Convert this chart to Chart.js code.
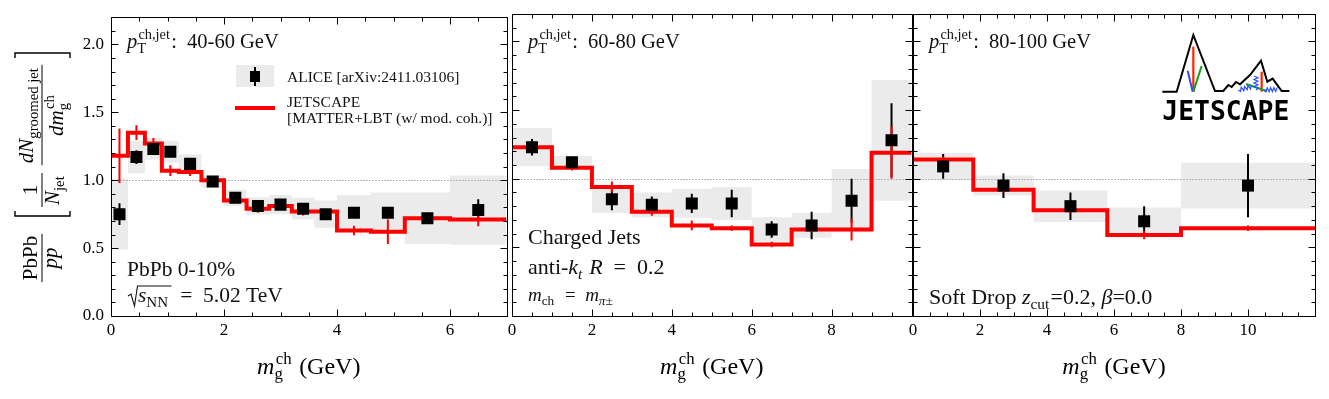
<!DOCTYPE html>
<html>
<head>
<meta charset="utf-8">
<script src="https://cdn.jsdelivr.net/npm/chart.js@4.4.0/dist/chart.umd.min.js"></script>
<style>
  html, body { margin: 0; padding: 0; background: #fff; }
  #wrap { position: relative; width: 1329px; height: 399px; overflow: hidden; }
  #wrap canvas { position: absolute; top: 0; }
</style>
</head>
<body>
<div id="wrap">
  <canvas id="c1" width="515" height="399" style="left:0px"></canvas>
  <canvas id="c2" width="420" height="399" style="left:500px"></canvas>
  <canvas id="c3" width="429" height="399" style="left:900px"></canvas>
</div>
<script>
const SERIF = '"Liberation Serif", "Times New Roman", serif';

// ---- panel 1: pT 40-60 GeV ----
const p1Edges = [0, 0.3, 0.6, 0.9, 1.2, 1.6, 2.0, 2.4, 2.8, 3.2, 3.6, 4.0, 4.6, 5.2, 6.0, 7.0];
const p1X = [0.15, 0.45, 0.75, 1.05, 1.4, 1.8, 2.2, 2.6, 3.0, 3.4, 3.8, 4.3, 4.9, 5.6, 6.5];
const p1Alice = [0.75, 1.17, 1.23, 1.21, 1.12, 0.99, 0.87, 0.81, 0.82, 0.79, 0.75, 0.76, 0.76, 0.72, 0.78];
const p1Stat = [0.08, 0.05, 0.04, 0.04, 0.04, 0.03, 0.03, 0.03, 0.03, 0.03, 0.03, 0.03, 0.03, 0.04, 0.08];
const p1Sys = [0.26, 0.12, 0.08, 0.08, 0.07, 0.045, 0.06, 0.065, 0.07, 0.08, 0.1, 0.13, 0.15, 0.19, 0.255];
const p1Jet = [1.18, 1.35, 1.27, 1.07, 1.06, 1.00, 0.85, 0.79, 0.81, 0.77, 0.77, 0.63, 0.62, 0.72, 0.71];
const p1JetErr = [0.2, 0.055, 0.04, 0.04, 0.03, 0.03, 0.02, 0.03, 0.02, 0.03, 0.02, 0.035, 0.09, 0.02, 0.05];

// ---- panel 2: pT 60-80 GeV ----
const p2Edges = [0, 1, 2, 3, 4, 5, 6, 7, 8, 9, 10];
const p2X = [0.5, 1.5, 2.5, 3.5, 4.5, 5.5, 6.5, 7.5, 8.5, 9.5];
const p2Alice = [1.23, 1.12, 0.85, 0.81, 0.82, 0.82, 0.63, 0.66, 0.84, 1.28];
const p2Stat = [0.06, 0.04, 0.08, 0.06, 0.07, 0.1, 0.06, 0.1, 0.16, 0.27];
const p2Sys = [0.14, 0.045, 0.1, 0.09, 0.105, 0.12, 0.09, 0.09, 0.23, 0.44];
const p2Jet = [1.23, 1.08, 0.94, 0.76, 0.66, 0.64, 0.52, 0.63, 0.63, 1.19];
const p2JetErr = [0.02, 0.02, 0.04, 0.03, 0.035, 0.02, 0.02, 0.02, 0.08, 0.19];

// ---- panel 3: pT 80-100 GeV ----
const p3Edges = [0, 1.8, 3.6, 5.8, 8.0, 12];
const p3X = [0.9, 2.7, 4.7, 6.9, 10.0];
const p3Alice = [1.09, 0.95, 0.80, 0.69, 0.95];
const p3Stat = [0.09, 0.09, 0.1, 0.11, 0.23];
const p3Sys = [0.1, 0.073, 0.115, 0.1, 0.167];
const p3Jet = [1.14, 0.92, 0.77, 0.59, 0.64];
const p3JetErr = [0.02, 0.02, 0.02, 0.03, 0.02];

const yTicks = [0, 0.5, 1.0, 1.5, 2.0];

// rich text helpers (italic, sub/superscripts)
const N = t => ({ t });
const I = t => ({ t, i: true });
const S = (b, p, bi, pi) => ({ b, p, bi, pi });
const fnt = (size, it) => (it ? 'italic ' : '') + size + 'px ' + SERIF;
const EQ = '\u2002=\u2002';

function rich(ctx, parts, x, y, size, draw = true) {
  let cx = x;
  ctx.textBaseline = 'alphabetic';
  ctx.textAlign = 'left';
  for (const q of parts) {
    if (q.t !== undefined) {
      ctx.font = fnt(size, q.i);
      if (draw) ctx.fillText(q.t, cx, y);
      cx += ctx.measureText(q.t).width;
    } else {
      const ss = size * 0.7;
      let w = 0;
      if (q.b) {
        ctx.font = fnt(ss, q.bi);
        if (draw) ctx.fillText(q.b, cx, y + size * 0.22);
        w = ctx.measureText(q.b).width;
      }
      if (q.p) {
        const off = q.b ? size * 0.06 : 0;
        ctx.font = fnt(ss, q.pi);
        if (draw) ctx.fillText(q.p, cx + off, y - size * 0.42);
        w = Math.max(w, ctx.measureText(q.p).width + off);
      }
      cx += w + size * 0.06;
    }
  }
  return cx - x;
}
function richC(ctx, parts, cx, y, size) {
  const w = rich(ctx, parts, 0, 0, size, false);
  rich(ctx, parts, cx - w / 2, y, size);
  return w;
}

function stepPts(edges, vals) {
  const pts = vals.map((v, i) => ({ x: edges[i], y: v }));
  pts.push({ x: edges[edges.length - 1], y: vals[vals.length - 1] });
  return pts;
}

function vbars(chart, xs, vals, errs, color) {
  const { ctx, scales: { x, y } } = chart;
  ctx.save();
  ctx.strokeStyle = color;
  ctx.lineWidth = 2;
  ctx.beginPath();
  xs.forEach((xv, i) => {
    const px = x.getPixelForValue(xv);
    ctx.moveTo(px, y.getPixelForValue(vals[i] - errs[i]));
    ctx.lineTo(px, y.getPixelForValue(vals[i] + errs[i]));
  });
  ctx.stroke();
  ctx.restore();
}

function drawFrame(chart, xmax) {
  const { ctx, chartArea: a, scales: { x, y } } = chart;
  const L = Math.round(a.left) + 0.5, R = Math.round(a.right) + 0.5;
  const T = Math.round(a.top) + 0.5, B = Math.round(a.bottom) + 0.5;
  ctx.save();
  ctx.strokeStyle = '#000';
  ctx.lineWidth = 1;
  ctx.beginPath();
  for (let k = 0; k <= xmax * 2; k++) {
    const px = Math.round(x.getPixelForValue(k / 2)) + 0.5;
    const len = k % 4 === 0 ? 7 : 4;
    ctx.moveTo(px, B); ctx.lineTo(px, B - len);
    ctx.moveTo(px, T); ctx.lineTo(px, T + len);
  }
  for (let k = 0; k <= 22; k++) {
    const py = Math.round(y.getPixelForValue(k / 10)) + 0.5;
    const len = k % 5 === 0 ? 7 : 4;
    ctx.moveTo(L, py); ctx.lineTo(L + len, py);
    ctx.moveTo(R, py); ctx.lineTo(R - len, py);
  }
  ctx.moveTo(L, T); ctx.lineTo(R, T); ctx.lineTo(R, B); ctx.lineTo(L, B); ctx.closePath();
  ctx.stroke();
  ctx.restore();
}

function axisTitle(chart) {
  const { ctx, chartArea: a } = chart;
  ctx.save();
  ctx.fillStyle = '#000';
  richC(ctx, [I('m'), S('g', 'ch'), N(' (GeV)')], (a.left + a.right) / 2, 374, 24);
  ctx.restore();
}

function fraction(ctx, num, den, cx, size, nb, db) {
  const wn = richC(ctx, num, cx, nb, size);
  const wd = richC(ctx, den, cx, db, size);
  const len = Math.max(wn, wd) + 4;
  ctx.beginPath();
  ctx.moveTo(cx - len / 2, 0);
  ctx.lineTo(cx + len / 2, 0);
  ctx.stroke();
}

function yTitle(ctx) {
  ctx.save();
  ctx.translate(42, 316);
  ctx.rotate(-Math.PI / 2);
  ctx.fillStyle = '#000';
  ctx.strokeStyle = '#000';
  ctx.lineWidth = 1;
  fraction(ctx, [N('PbPb')], [I('pp')], 58, 21, -5, 15);
  fraction(ctx, [N('1')], [I('N'), S('jet')], 126, 21, -5, 17);
  fraction(ctx, [I('dN'), S('groomed jet')], [I('dm'), S('g', 'ch')], 201, 21, -9, 21);
  ctx.lineWidth = 1.4;
  ctx.beginPath();
  ctx.moveTo(105, -27); ctx.lineTo(100, -27); ctx.lineTo(100, 28); ctx.lineTo(105, 28);
  ctx.moveTo(258, -27); ctx.lineTo(263, -27); ctx.lineTo(263, 28); ctx.lineTo(258, 28);
  ctx.stroke();
  ctx.restore();
}

function legend1(ctx) {
  ctx.save();
  ctx.fillStyle = '#ebebeb';
  ctx.fillRect(236, 65, 38, 22);
  ctx.fillStyle = '#000';
  ctx.fillRect(250, 71, 10, 11);
  ctx.strokeStyle = '#000'; ctx.lineWidth = 2;
  ctx.beginPath(); ctx.moveTo(255, 67); ctx.lineTo(255, 86); ctx.stroke();
  ctx.strokeStyle = '#ff0000'; ctx.lineWidth = 4;
  ctx.beginPath(); ctx.moveTo(235, 108); ctx.lineTo(275, 108); ctx.stroke();
  ctx.fillStyle = '#111';
  rich(ctx, [N('ALICE [arXiv:2411.03106]')], 287, 82, 15.5);
  rich(ctx, [N('JETSCAPE')], 287, 107, 15.5);
  rich(ctx, [N('[MATTER+LBT (w/ mod. coh.)]')], 287, 123, 15.5);
  ctx.restore();
}

function zigzag(ctx, x0, y0, x1, y1, n, amp) {
  const dx = x1 - x0, dy = y1 - y0, L = Math.hypot(dx, dy);
  const nx = -dy / L, ny = dx / L;
  ctx.moveTo(x0, y0);
  for (let k = 1; k <= n; k++) {
    const t = k / n, s = k % 2 ? amp : -amp;
    ctx.lineTo(x0 + dx * t + nx * s, y0 + dy * t + ny * s);
  }
}

function logo(ctx, ox, oy) {
  const P = q => [ox + q[0] / 3, oy + q[1] / 3];
  const line = (pts, color, w) => {
    ctx.beginPath();
    pts.forEach((q, i) => { const [X, Y] = P(q); i ? ctx.lineTo(X, Y) : ctx.moveTo(X, Y); });
    ctx.strokeStyle = color; ctx.lineWidth = w; ctx.stroke();
  };
  ctx.save();
  line([[37, 215], [80, 215], [130, 45], [195, 213], [220, 213], [235, 195], [245, 201], [258, 186], [270, 193], [300, 165], [333, 122], [352, 185], [368, 176], [395, 213], [418, 213]], '#000', 2);
  line([[130, 80], [130, 215]], '#ff2200', 2.2);
  line([[113, 152], [128, 215]], '#2a50ff', 2);
  line([[155, 138], [130, 215]], '#1c9a1c', 2);
  line([[335, 155], [335, 215]], '#ff2200', 2.2);
  line([[288, 192], [350, 213]], '#1c9a1c', 2);
  ctx.strokeStyle = '#2a50ff'; ctx.lineWidth = 1.2;
  ctx.beginPath();
  const [a0, b0] = P([265, 210]), [a1, b1] = P([305, 200]);
  zigzag(ctx, a0, b0, a1, b1, 8, 2);
  const [c0, d0] = P([318, 210]), [c1, d1] = P([318, 168]);
  zigzag(ctx, c0, d0, c1, d1, 8, 2);
  const [e0, f0] = P([342, 210]), [e1, f1] = P([382, 208]);
  zigzag(ctx, e0, f0, e1, f1, 8, 2);
  ctx.stroke();
  // wordmark
  ctx.fillStyle = '#000';
  ctx.font = 'bold 26px "DejaVu Sans Mono", monospace';
  ctx.textBaseline = 'alphabetic';
  const w = ctx.measureText('JETSCAPE').width;
  const [tx, ty] = P([37, 300]);
  ctx.translate(tx, ty);
  ctx.scale(127 / w, 1);
  ctx.fillText('JETSCAPE', 0, 0);
  ctx.restore();
}

function makePanel(id, p) {
  // datasets are painted from last to first: boxes, then red line, then markers
  const deco = {
    id: 'deco_' + id,
    beforeDatasetDraw(chart, args) {
      if (args.index !== 1) return;
      const { ctx, chartArea: a, scales: { y } } = chart;
      ctx.save();
      ctx.strokeStyle = '#b8b8b8';
      ctx.lineWidth = 1;
      ctx.setLineDash([2, 1]);
      const y1 = Math.round(y.getPixelForValue(1)) + 0.5;
      ctx.beginPath(); ctx.moveTo(a.left, y1); ctx.lineTo(a.right, y1); ctx.stroke();
      ctx.restore();
      vbars(chart, p.x, p.alice, p.stat, '#000');
    },
    afterDatasetDraw(chart, args) {
      if (args.index !== 1) return;
      vbars(chart, p.x, p.jet, p.jetErr, '#ff0000');
    },
    afterDraw(chart) {
      drawFrame(chart, p.xmax);
      axisTitle(chart);
      const ctx = chart.ctx;
      ctx.save();
      ctx.fillStyle = '#111';
      p.texts(ctx, chart.chartArea);
      ctx.restore();
    }
  };
  const clear = 'rgba(0,0,0,0)';
  return new Chart(document.getElementById(id), {
    type: 'scatter',
    data: {
      datasets: [
        { data: p.x.map((xv, i) => ({ x: xv, y: p.alice[i] })), showLine: false,
          pointStyle: 'rect', pointRadius: 8.5, backgroundColor: '#000', borderColor: '#000', borderWidth: 0 },
        { data: stepPts(p.edges, p.jet), showLine: true, stepped: true,
          borderColor: '#ff0000', borderWidth: 4, pointRadius: 0, fill: false },
        { data: stepPts(p.edges, p.alice.map((v, i) => v - p.sys[i])), showLine: true, stepped: true,
          borderColor: clear, borderWidth: 1, pointRadius: 0, fill: '+1', backgroundColor: '#ebebeb' },
        { data: stepPts(p.edges, p.alice.map((v, i) => v + p.sys[i])), showLine: true, stepped: true,
          borderColor: clear, borderWidth: 1, pointRadius: 0, fill: false }
      ]
    },
    options: {
      responsive: false,
      animation: false,
      events: [],
      layout: { padding: p.pad },
      plugins: { legend: { display: false }, tooltip: { enabled: false } },
      scales: {
        x: {
          type: 'linear', min: 0, max: p.xmax,
          grid: { display: false, drawTicks: false }, border: { display: false },
          ticks: { stepSize: 2, includeBounds: false, padding: 4, color: '#000', maxRotation: 0, autoSkip: false,
                   font: { family: SERIF, size: 17 }, callback: v => String(v) },
          afterBuildTicks: s => { s.ticks = s.ticks.filter(t => t.value < p.xmax - 1e-6); },
          afterFit: s => { s.height = 83; }
        },
        y: {
          type: 'linear', display: p.showY, min: 0, max: 2.2,
          grid: { display: false, drawTicks: false }, border: { display: false },
          ticks: { stepSize: 0.5, includeBounds: false, padding: 7, color: '#000',
                   font: { family: SERIF, size: 17 }, callback: v => v.toFixed(1) },
          afterBuildTicks: s => { s.ticks = yTicks.map(v => ({ value: v })); },
          afterFit: s => { if (p.showY) s.width = 111; }
        }
      }
    },
    plugins: [deco]
  });
}

makePanel('c1', {
  edges: p1Edges, x: p1X, alice: p1Alice, stat: p1Stat, sys: p1Sys, jet: p1Jet, jetErr: p1JetErr,
  xmax: 7, showY: true, pad: { left: 0, right: 3, top: 14, bottom: 0 },
  texts(ctx) {
    rich(ctx, [I('p'), S('T', 'ch,jet'), N(':  40-60 GeV')], 127, 48, 20.5);
    rich(ctx, [N('PbPb 0-10%')], 127, 276, 21.5);
    // sqrt(s_NN)
    const bx = 128, by = 302;
    const w = rich(ctx, [I('s'), S('NN')], 0, 0, 21.5, false);
    ctx.save();
    ctx.strokeStyle = '#111'; ctx.lineWidth = 1.1;
    ctx.beginPath();
    ctx.moveTo(bx, by - 6); ctx.lineTo(bx + 3, by - 8); ctx.lineTo(bx + 6.5, by + 4);
    ctx.lineTo(bx + 9.5, by - 16); ctx.lineTo(bx + 12 + w, by - 16);
    ctx.stroke();
    ctx.restore();
    rich(ctx, [I('s'), S('NN'), N(EQ + '5.02 TeV')], bx + 10, by, 21.5);
    yTitle(ctx);
    legend1(ctx);
  }
});

makePanel('c2', {
  edges: p2Edges, x: p2X, alice: p2Alice, stat: p2Stat, sys: p2Sys, jet: p2Jet, jetErr: p2JetErr,
  xmax: 10, showY: false, pad: { left: 12, right: 7, top: 14, bottom: 0 },
  texts(ctx) {
    rich(ctx, [I('p'), S('T', 'ch,jet'), N(':  60-80 GeV')], 28, 48, 20.5);
    rich(ctx, [N('Charged Jets')], 28, 244, 22);
    rich(ctx, [N('anti-'), I('k'), S('t', null, true), N(' '), I('R'), N(EQ + '0.2')], 28, 274, 22);
    rich(ctx, [I('m'), S('ch'), N(EQ), I('m'), S('\u03c0\u00b1', null, true)], 28, 301, 19);
  }
});

makePanel('c3', {
  edges: p3Edges, x: p3X, alice: p3Alice, stat: p3Stat, sys: p3Sys, jet: p3Jet, jetErr: p3JetErr,
  xmax: 12, showY: false, pad: { left: 13, right: 14, top: 14, bottom: 0 },
  texts(ctx) {
    rich(ctx, [I('p'), S('T', 'ch,jet'), N(':  80-100 GeV')], 29, 48, 20.5);
    rich(ctx, [N('Soft Drop '), I('z'), S('cut'), N('=0.2, '), I('\u03b2'), N('=0.0')], 29, 304, 22);
    logo(ctx, 250, 20);
  }
});
</script>
</body>
</html>
